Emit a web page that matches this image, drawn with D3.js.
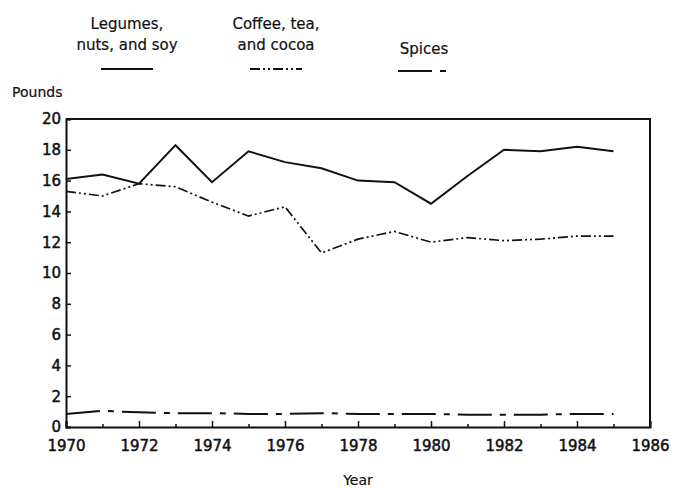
<!DOCTYPE html>
<html lang="en">

<head>
    <meta charset="UTF-8">
    <title>Food consumption, pounds per capita</title>
    <script src="https://d3js.org/d3.v7.min.js"></script>
    <style>
        body { margin: 0; background: white; }
        svg text { font-family: "DejaVu Sans", sans-serif; fill: #111; }
    </style>
</head>

<body>

<script>
    // Data
    let years = [1970, 1971, 1972, 1973, 1974, 1975, 1976, 1977, 1978, 1979, 1980, 1981, 1982, 1983, 1984, 1985];
    let legumes = [16.1, 16.4, 15.8, 18.3, 15.9, 17.9, 17.2, 16.8, 16.0, 15.9, 14.5, 16.3, 18.0, 17.9, 18.2, 17.9];
    let coffee = [15.3, 15.0, 15.8, 15.6, 14.6, 13.7, 14.3, 11.3, 12.2, 12.7, 12.0, 12.3, 12.1, 12.2, 12.4, 12.4];
    let spices = [0.85, 1.05, 0.95, 0.9, 0.9, 0.85, 0.85, 0.9, 0.85, 0.85, 0.85, 0.8, 0.8, 0.8, 0.85, 0.85];

    let xTicks = [1970, 1972, 1974, 1976, 1978, 1980, 1982, 1984, 1986];
    let xMinorTicks = [1971, 1973, 1975, 1977, 1979, 1981, 1983, 1985];
    let yTicks = [0, 2, 4, 6, 8, 10, 12, 14, 16, 18, 20];

    let series = [
        {name: ["Legumes,", "nuts, and soy"], values: legumes, dash: null, sw: 2, lx: 127, ly: 69},
        {name: ["Coffee, tea,", "and cocoa"], values: coffee, dash: "10,3,2,3,2,3", sw: 1.7, lx: 276, ly: 69},
        {name: ["Spices"], values: spices, dash: "34,8,6,8", sw: 2, lx: 424, ly: 71}
    ];

    let width = 681;
    let height = 488;

    let svg = d3.select("body").append("svg")
        .attr("width", width)
        .attr("height", height);

    let x = d3.scaleLinear().domain([1970, 1986]).range([66, 650]);
    let y = d3.scaleLinear().domain([0, 20]).range([427, 119]);

    // Frame (top and right sides)
    svg.append("path")
        .attr("d", `M${x(1970)},${y(20)}H${x(1986)}V${y(0)}`)
        .attr("fill", "none")
        .attr("stroke", "#111")
        .attr("stroke-width", 2);

    // Axes, ticks point inward
    svg.append("g")
        .attr("transform", `translate(0,${y(0)})`)
        .call(d3.axisBottom(x).tickValues(xTicks).tickFormat(d3.format("d")).tickSize(-6).tickPadding(13));

    svg.append("g")
        .attr("transform", `translate(0,${y(0)})`)
        .call(d3.axisBottom(x).tickValues(xMinorTicks).tickFormat("").tickSize(-3))
        .call(g => g.select(".domain").remove());

    svg.append("g")
        .attr("transform", `translate(${x(1970)},0)`)
        .call(d3.axisLeft(y).tickValues(yTicks).tickSize(-5).tickPadding(5));

    svg.selectAll(".domain").attr("stroke", "#111").attr("stroke-width", 2);
    svg.selectAll(".tick line").attr("stroke", "#111").attr("stroke-width", 1.5);
    svg.selectAll(".tick text")
        .attr("font-size", 15)
        .attr("font-family", "DejaVu Sans, sans-serif")
        .attr("fill", "#111")
        .attr("stroke", "#111")
        .attr("stroke-width", 0.5);

    // Lines
    let line = d3.line()
        .x((d, i) => x(years[i]))
        .y(d => y(d));

    svg.append("g").selectAll("path")
        .data(series)
        .join("path")
        .attr("d", d => line(d.values))
        .attr("fill", "none")
        .attr("stroke", "#111")
        .attr("stroke-width", d => d.sw)
        .attr("stroke-dasharray", d => d.dash);

    // Legend
    let legend = svg.append("g").selectAll("g")
        .data(series)
        .join("g");

    legend.each(function(d) {
        let g = d3.select(this);
        let base = d.name.length === 1 ? 54 : 29;
        d.name.forEach((t, i) => {
            g.append("text")
                .attr("x", d.lx)
                .attr("y", base + i * 21)
                .attr("text-anchor", "middle")
                .attr("font-size", 15)
                .attr("stroke", "#111")
                .attr("stroke-width", 0.2)
                .text(t);
        });
        g.append("line")
            .attr("x1", d.lx - 26)
            .attr("x2", d.lx + 26)
            .attr("y1", d.ly)
            .attr("y2", d.ly)
            .attr("stroke", "#111")
            .attr("stroke-width", 2)
            .attr("stroke-dasharray", d.dash);
    });

    // Axis titles
    svg.append("text")
        .attr("x", 12)
        .attr("y", 97)
        .attr("font-size", 14)
        .attr("stroke", "#111")
        .attr("stroke-width", 0.2)
        .text("Pounds");

    svg.append("text")
        .attr("x", 358)
        .attr("y", 485)
        .attr("text-anchor", "middle")
        .attr("font-size", 14)
        .attr("stroke", "#111")
        .attr("stroke-width", 0.2)
        .text("Year");
</script>

</body>
</html>
